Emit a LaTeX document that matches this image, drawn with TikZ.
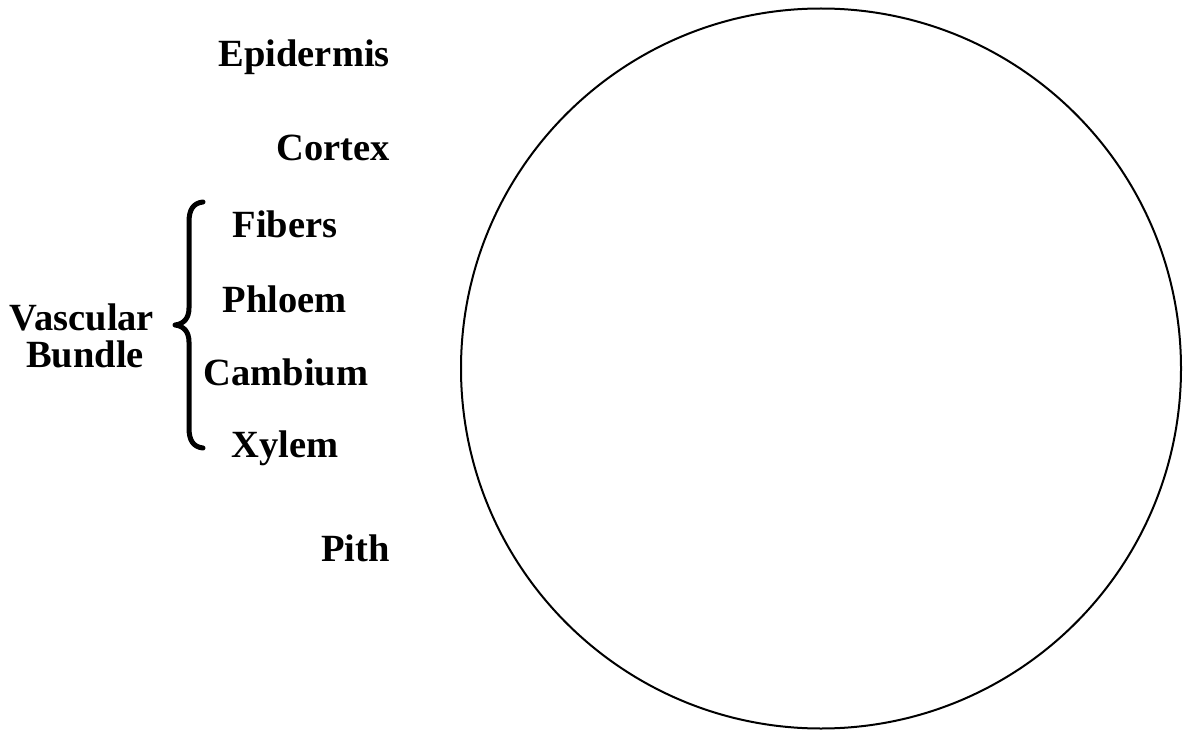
\documentclass[tikz,border=0pt]{standalone}
\usepackage{fontspec}
\setmainfont{Liberation Serif}
\begin{document}
\begin{tikzpicture}[x=1pt,y=-1pt,
  lbl/.style={font=\fontsize{38.5}{40}\selectfont\bfseries, inner sep=0pt},
  rlbl/.style={lbl, anchor=base east},
  clbl/.style={lbl, anchor=base}]
\useasboundingbox[fill=white] (0,0) rectangle (1183,730);
% stem cross-section
\draw[line width=2pt] (821,368.5) circle[radius=360];
\node[circle, minimum size=720pt, inner sep=0pt] (stem) at (821,368.5) {};
% labels
\node[rlbl] (epi) at (390,67) {Epidermis};
\node[rlbl] (cor) at (390,161) {Cortex};
\node[rlbl] (pith) at (390,561) {Pith};
\node[clbl] (fib) at (285,237) {Fibers};
\node[clbl] (phl) at (285,312) {Phloem};
\node[clbl] (cam) at (286,385) {Cambium};
\node[clbl] (xyl) at (285,457) {Xylem};
\node[clbl] (vasc) at (82,330) {Vascular};
\node[clbl] (bund) at (85,367) {Bundle};
% brace
\draw[line width=5pt, line cap=round, line join=round]
  (203,202) .. controls (193,203) and (189,210) .. (189,222)
  -- (189,308) .. controls (189,318) and (184,324) .. (175,325)
  .. controls (184,326) and (189,332) .. (189,342)
  -- (189,428) .. controls (189,440) and (193,447) .. (203,448);
\end{tikzpicture}
\end{document}
